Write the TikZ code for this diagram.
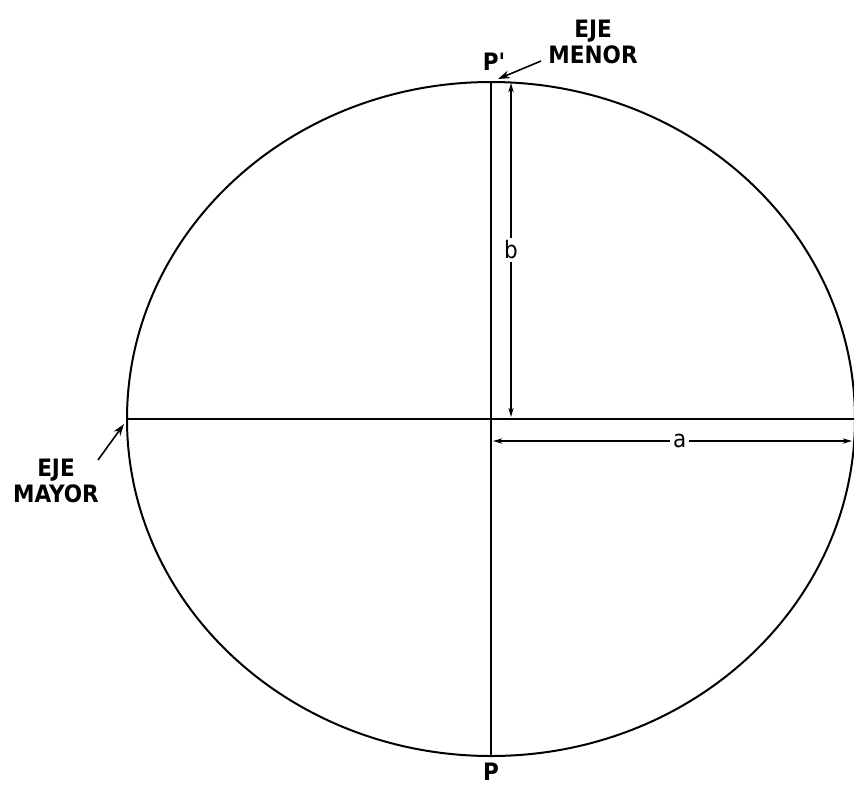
\documentclass[tikz,border=0pt]{standalone}
\usepackage{fontspec}
\setsansfont{DejaVu Sans Condensed}
\usepackage{tikz}
\usetikzlibrary{arrows.meta, positioning}

\begin{document}
\begin{tikzpicture}[x=0.0264cm, y=-0.0264cm]
    \tikzstyle{axis} = [draw, line width=1.2pt]
    \tikzstyle{dim} = [draw, line width=1.1pt, {Stealth[length=7pt,width=4pt]}-{Stealth[length=7pt,width=4pt]}]
    \tikzstyle{pointer} = [draw, line width=1.2pt, -{Stealth[length=9pt,width=6pt]}]
    \tikzstyle{lbl} = [font=\sffamily\bfseries\fontsize{18}{19.5}\selectfont, align=center, inner sep=1pt]
    \tikzstyle{val} = [font=\sffamily\fontsize{18}{20}\selectfont, fill=white, inner sep=2pt]

    \useasboundingbox (0,0) rectangle (854,786);

    % ellipse and axes
    \coordinate (centre) at (491,419);
    \coordinate (top) at (491,82);
    \coordinate (bottom) at (491,757);
    \coordinate (left) at (127,419);
    \coordinate (right) at (854,419);
    \draw[line width=1.5pt] (centre) ellipse [x radius=364, y radius=337];
    \path [axis] (top) -- (bottom);
    \path [axis] (left) -- (right);

    % dimensions
    \coordinate (btop) at (511,83);
    \coordinate (bbot) at (511,417);
    \coordinate (aleft) at (493,441);
    \coordinate (aright) at (852,441);
    \path [dim] (btop) -- node [val] (b) {b} (bbot);
    \path [dim] (aleft) -- node [val, pos=0.52] (a) {a} (aright);

    % labels
    \node [lbl] (pprime) at (494,62) {P\textquotesingle};
    \node [lbl, below=3pt of bottom] (p) {P};
    \node [lbl] (menor) at (593,42) {EJE\\MENOR};
    \node [lbl] (mayor) at (56,481) {EJE\\MAYOR};
    \path [pointer] (541,61) -- (498,79);
    \path [pointer] (98,460) -- (124,424);
\end{tikzpicture}
\end{document}
